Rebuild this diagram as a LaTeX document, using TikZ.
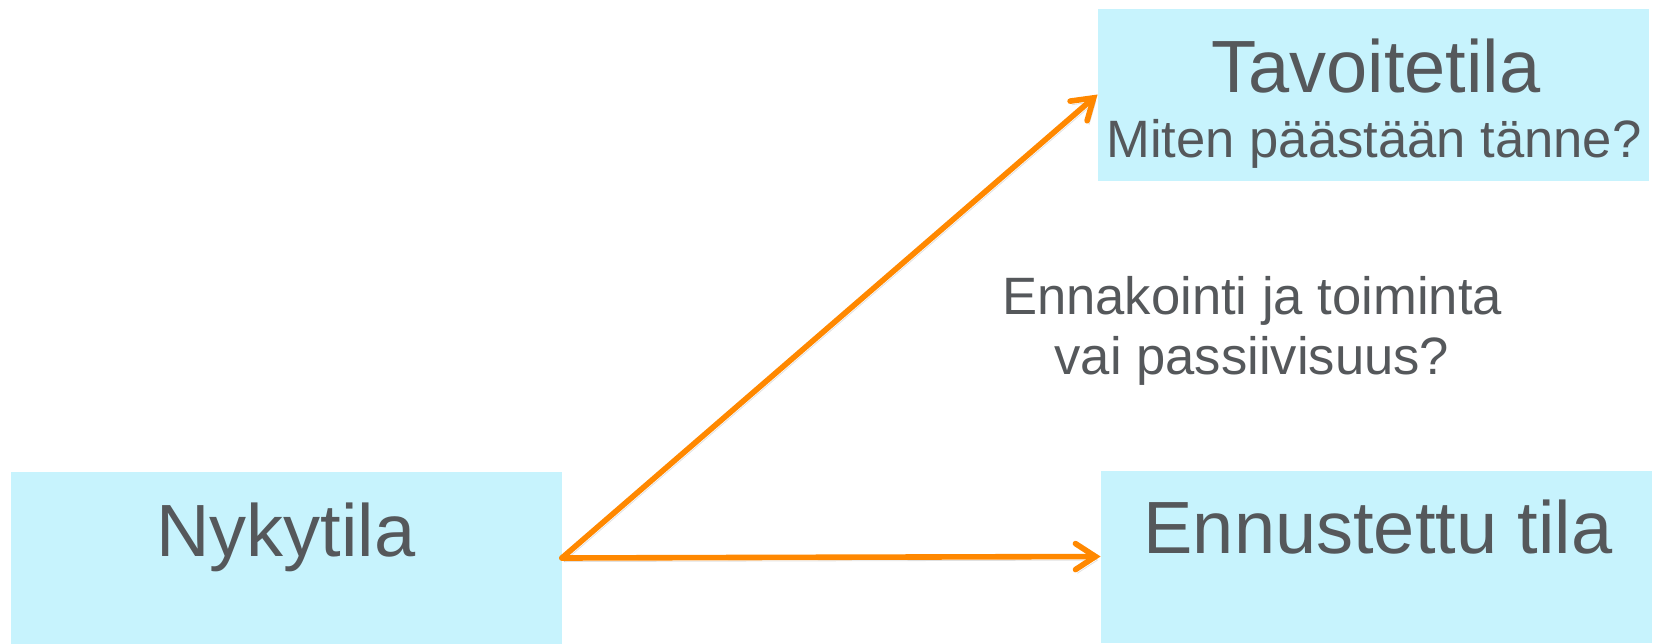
\documentclass[tikz,border=0pt]{standalone}
\usepackage{fontspec}
\setmainfont{Liberation Sans}
\usetikzlibrary{arrows.meta}

\definecolor{boxcyan}{RGB}{199,243,253}
\definecolor{textgray}{RGB}{85,88,91}
\definecolor{arroworange}{RGB}{255,136,0}

\begin{document}
\begin{tikzpicture}[x=0.5pt, y=-0.5pt,
    statebox/.style={fill=boxcyan, draw=none, inner sep=0pt, minimum width=275.5pt, minimum height=86pt},
    title/.style={text=textgray, inner sep=0pt, anchor=base, font=\fontsize{37}{42}\selectfont},
    subtitle/.style={text=textgray, inner sep=0pt, font=\fontsize{26.3}{30}\selectfont},
    flow/.style={draw=arroworange, line width=2.8pt, line cap=round,
        -{Straight Barb[length=10pt, width=13pt, line cap=round]},
        preaction={draw=black, opacity=0.12, transform canvas={shift={(1pt,-1.8pt)}}}}]
    \useasboundingbox (0,0) rectangle (1661,643);
    % boxes
    \node[statebox] (nyky) at (286,558) {};
    \node[statebox] (tavoite) at (1373.5,94.5) {};
    \node[statebox] (ennuste) at (1376.5,556.5) {};
    % texts
    \node[title] (nykyT) at (286,556) {Nykytila};
    \node[title] (tavoiteT) at (1376,92) {Tavoitetila};
    \node[subtitle, anchor=base] (tavoiteS) at (1374,157) {Miten päästään tänne?};
    \node[title] (ennusteT) at (1378,553) {Ennustettu tila};
    \node[subtitle, align=center, anchor=north] (kysymys) at (1252,276) {Ennakointi ja toiminta\\vai passiivisuus?};
    % arrows
    \draw[flow] (nyky.east) -- (tavoite.west);
    \draw[flow] (nyky.east) -- (ennuste.west);
\end{tikzpicture}
\end{document}
